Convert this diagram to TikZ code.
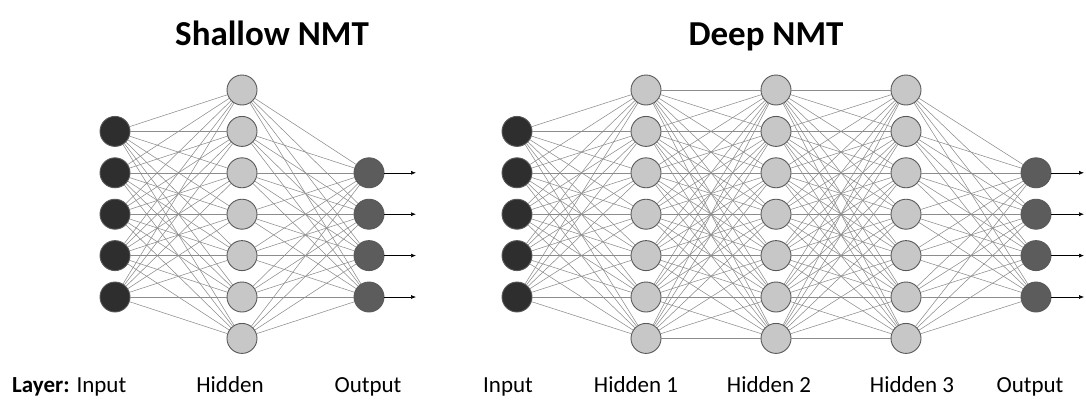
\documentclass[tikz,border=0pt]{standalone}
\usepackage{fontspec}
\setmainfont{Carlito}
\usetikzlibrary{arrows.meta}

\tikzset{
  neuron/.style={circle, draw=black!65, line width=0.9pt, minimum size=30pt, inner sep=0pt},
  inneuron/.style={neuron, fill=black!82},
  hidneuron/.style={neuron, fill=black!22},
  outneuron/.style={neuron, fill=black!64},
  synapse/.style={draw=black!45, line width=0.55pt},
  outarrow/.style={-{Latex[length=5pt,width=4pt]}, line width=0.6pt},
  title/.style={font=\bfseries\fontsize{35}{40}\selectfont, anchor=base},
  layerlabel/.style={font=\fontsize{23}{27}\selectfont, anchor=base},
}

\begin{document}
\begin{tikzpicture}[x=1pt, y=-1pt]
  \useasboundingbox (0,0) rectangle (1086,399);

  % Titles
  \node[title] (tshallow) at (272,45) {Shallow NMT};
  \node[title] (tdeep)    at (766,45) {Deep NMT};

  % Shallow network
  \foreach \k in {1,...,5}
    \node[inneuron] (si\k) at (115,{90+41.4*\k}) {};
  \foreach \k in {1,...,7}
    \node[hidneuron] (sh\k) at (242,{90+41.4*(\k-1)}) {};
  \foreach \k in {1,...,4} {
    \node[outneuron] (so\k) at (369,{90+41.4*(\k+1)}) {};
    \coordinate (se\k) at (416,{90+41.4*(\k+1)});
  }

  \foreach \i in {1,...,5}
    \foreach \j in {1,...,7}
      \draw[synapse] (si\i) -- (sh\j);
  \foreach \i in {1,...,7}
    \foreach \j in {1,...,4}
      \draw[synapse] (sh\i) -- (so\j);
  \foreach \k in {1,...,4}
    \draw[outarrow] (so\k) -- (se\k);

  % Deep network
  \foreach \k in {1,...,5}
    \node[inneuron] (di\k) at (517,{90+41.4*\k}) {};
  \foreach \k in {1,...,7} {
    \node[hidneuron] (da\k) at (646,{90+41.4*(\k-1)}) {};
    \node[hidneuron] (db\k) at (776,{90+41.4*(\k-1)}) {};
    \node[hidneuron] (dc\k) at (906,{90+41.4*(\k-1)}) {};
  }
  \foreach \k in {1,...,4} {
    \node[outneuron] (do\k) at (1036,{90+41.4*(\k+1)}) {};
    \coordinate (de\k) at (1084,{90+41.4*(\k+1)});
  }

  \foreach \i in {1,...,5}
    \foreach \j in {1,...,7}
      \draw[synapse] (di\i) -- (da\j);
  \foreach \i in {1,...,7}
    \foreach \j in {1,...,7} {
      \draw[synapse] (da\i) -- (db\j);
      \draw[synapse] (db\i) -- (dc\j);
    }
  \foreach \i in {1,...,7}
    \foreach \j in {1,...,4}
      \draw[synapse] (dc\i) -- (do\j);
  \foreach \k in {1,...,4}
    \draw[outarrow] (do\k) -- (de\k);

  % Layer labels
  \node[layerlabel, anchor=base west, inner sep=0pt] (llayer) at (12,392) {\textbf{Layer:} Input};
  \node[layerlabel] (lsh)  at (230,392) {Hidden};
  \node[layerlabel] (lso)  at (368,392) {Output};
  \node[layerlabel] (ldi)  at (508,392) {Input};
  \node[layerlabel] (lda)  at (636,392) {Hidden 1};
  \node[layerlabel] (ldb)  at (769,392) {Hidden 2};
  \node[layerlabel] (ldc)  at (912,392) {Hidden 3};
  \node[layerlabel] (ldo)  at (1030,392) {Output};
\end{tikzpicture}
\end{document}
